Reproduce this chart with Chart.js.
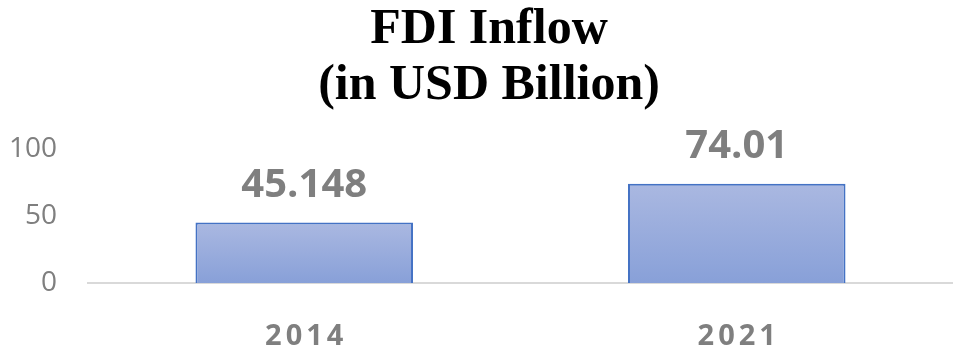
<!DOCTYPE html>
<html>
<head>
<meta charset="utf-8">
<script src="https://cdn.jsdelivr.net/npm/chart.js@4/dist/chart.umd.min.js"></script>
<style>
  html, body { margin: 0; padding: 0; background: #ffffff; }
  canvas { display: block; }
</style>
</head>
<body>
<canvas id="fdi" width="953" height="355"></canvas>
<script>
// FDI inflow, USD billion
const years = ['2014', '2021'];
const inflow = [45.148, 74.01];
const inflowLabels = ['45.148', '74.01'];
const yTicks = [0, 50, 100];

const GREY = '#7f7f7f';

// value labels above each bar
const barValueLabels = {
  id: 'barValueLabels',
  afterDatasetsDraw(chart) {
    const { ctx } = chart;
    const meta = chart.getDatasetMeta(0);
    ctx.save();
    ctx.font = 'bold 40px "Open Sans"';
    ctx.fillStyle = GREY;
    ctx.textAlign = 'center';
    ctx.textBaseline = 'middle';
    meta.data.forEach((bar, i) => {
      ctx.fillText(inflowLabels[i], bar.x, bar.y - 37);
    });
    ctx.restore();
  }
};

// wider tracking for the category labels; title nudged right
const layoutTweaks = {
  id: 'layoutTweaks',
  afterLayout(chart) {
    if (chart.titleBlock) chart.titleBlock.left += 15;
    const scale = chart.scales.x;
    if (scale._wideWrapped) return;
    const orig = scale.drawLabels.bind(scale);
    scale.drawLabels = function (area) {
      const ctx = chart.ctx;
      ctx.save();
      ctx.letterSpacing = '4px';
      ctx.translate(2, 0);
      orig(area);
      ctx.restore();
    };
    scale._wideWrapped = true;
  }
};

// vertical gradient per bar, light at the top
function barGradient(context) {
  const chart = context.chart;
  const { chartArea, scales } = chart;
  if (!chartArea) return '#97aadb';
  const yTop = scales.y.getPixelForValue(inflow[context.dataIndex]);
  const yBot = scales.y.getPixelForValue(0);
  const g = chart.ctx.createLinearGradient(0, yTop, 0, yBot);
  g.addColorStop(0, '#aab8e1');
  g.addColorStop(1, '#88a0d8');
  return g;
}

new Chart(document.getElementById('fdi'), {
  type: 'bar',
  data: {
    labels: years,
    datasets: [{
      data: inflow,
      backgroundColor: barGradient,
      borderColor: '#4472c4',
      borderWidth: 2,
      borderSkipped: 'bottom',
      categoryPercentage: 1,
      barPercentage: 0.503
    }]
  },
  options: {
    responsive: false,
    animation: false,
    layout: { padding: { left: 10, right: 0, top: 0, bottom: 0 } },
    plugins: {
      legend: { display: false },
      tooltip: { enabled: false },
      title: {
        display: true,
        text: ['FDI Inflow', '(in USD Billion)'],
        color: '#000000',
        font: { family: '"Liberation Serif"', size: 50, weight: 'bold', lineHeight: 1.12 },
        padding: { top: 2, bottom: 35 }
      }
    },
    scales: {
      x: {
        grid: { display: false, drawTicks: false },
        border: { display: true, color: '#d9d9d9', width: 2 },
        afterFit(scale) { scale.height = 72; },
        ticks: {
          color: GREY,
          padding: 36,
          font: { family: '"Open Sans"', size: 29, weight: 'bold' }
        }
      },
      y: {
        min: 0,
        max: 100,
        afterBuildTicks(scale) {
          scale.ticks = yTicks.map(v => ({ value: v }));
        },
        afterFit(scale) { scale.width = 78; },
        grid: { display: false, drawTicks: false },
        border: { display: false },
        ticks: {
          color: GREY,
          padding: 31,
          font: { family: '"Open Sans"', size: 28 }
        }
      }
    }
  },
  plugins: [barValueLabels, layoutTweaks]
});
</script>
</body>
</html>
